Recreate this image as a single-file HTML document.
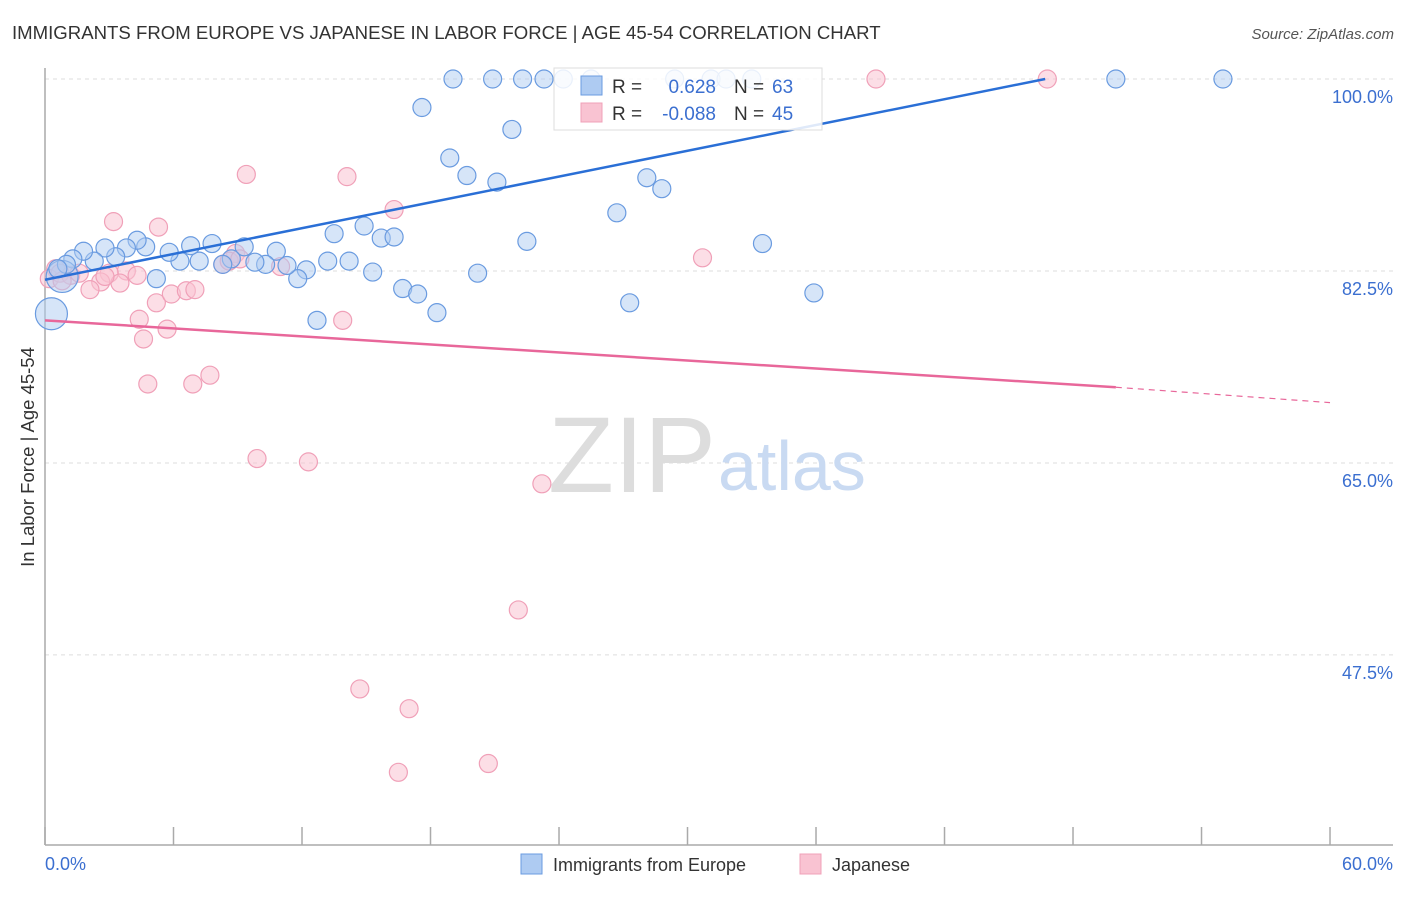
<!DOCTYPE html>
<html><head><meta charset="utf-8"><style>
body{margin:0;background:#fff;font-family:"Liberation Sans",sans-serif}
svg text{font-family:"Liberation Sans",sans-serif}
</style></head><body>
<svg id="chart" width="1406" height="892" xmlns="http://www.w3.org/2000/svg">
<text x="12" y="39" font-size="18.6" fill="#333">IMMIGRANTS FROM EUROPE VS JAPANESE IN LABOR FORCE | AGE 45-54 CORRELATION CHART</text>
<text x="1394" y="39" font-size="15" fill="#555" font-style="italic" text-anchor="end">Source: ZipAtlas.com</text>
<text x="0" y="0" transform="translate(34,457) rotate(-90)" font-size="18.5" fill="#333" text-anchor="middle">In Labor Force | Age 45-54</text>
<g id="grid"></g>
<text x="716" y="492" font-size="108" fill="#ddd" font-family="Liberation Serif" text-anchor="end">ZIP</text>
<text x="718" y="490" font-size="70" fill="#c9daf2">atlas</text>
<g id="pts"></g>
<g id="lines"></g>
<g>
<rect x="554" y="68" width="268" height="62" fill="#fff" fill-opacity="0.85" stroke="#ddd"/>
<rect x="581" y="76" width="21" height="19" fill="#aecbf2" stroke="#6a9be0"/>
<rect x="581" y="103" width="21" height="19" fill="#f9c3d2" stroke="#f0a0b8"/>
<text x="612" y="93" font-size="19" fill="#333">R =</text>
<text x="716" y="93" font-size="19" fill="#3b6fd0" text-anchor="end">0.628</text>
<text x="734" y="93" font-size="19" fill="#333">N =</text>
<text x="772" y="93" font-size="19" fill="#3b6fd0">63</text>
<text x="612" y="120" font-size="19" fill="#333">R =</text>
<text x="716" y="120" font-size="19" fill="#3b6fd0" text-anchor="end">-0.088</text>
<text x="734" y="120" font-size="19" fill="#333">N =</text>
<text x="772" y="120" font-size="19" fill="#3b6fd0">45</text>
</g>
<g>
<rect x="521" y="854" width="21" height="20" fill="#aecbf2" stroke="#6a9be0"/>
<text x="553" y="871" font-size="18" fill="#333">Immigrants from Europe</text>
<rect x="800" y="854" width="21" height="20" fill="#f9c3d2" stroke="#f0a0b8"/>
<text x="832" y="871" font-size="18" fill="#333">Japanese</text>
</g>
</svg>
<script>
const xTicks=[0,6,12,18,24,30,36,42,48,54,60];
const yTicks=[100,82.5,65,47.5];
const yTickLabels=["100.0%","82.5%","65.0%","47.5%"];
const europeX=[19.05,20.9,22.3,23.3,24.2,25.5,29.4,31.1,31.8,33.0,50.0,55.0,17.6,21.8,18.9,19.7,21.1,28.1,28.8,26.7,22.5,33.5,13.5,14.9,15.7,16.3,35.9,27.3,20.2,16.7,17.4,18.3,12.7,15.3,14.2,13.2,12.2,11.8,11.3,10.8,10.3,9.8,9.3,8.7,8.3,7.8,7.2,6.8,6.3,5.8,5.2,4.7,4.3,3.8,3.3,2.8,2.3,1.8,1.3,0.8,0.3,1.0,0.6];
const europeY=[100,100,100,100,100,100,100,100,100,100,100,100,97.4,95.4,92.8,91.2,90.6,91.0,90.0,87.8,85.2,85.0,85.9,86.6,85.5,85.6,80.5,79.6,82.3,80.9,80.4,78.7,78.0,82.4,83.4,83.4,82.6,81.8,83.0,84.3,83.1,83.3,84.7,83.6,83.1,85.0,83.4,84.8,83.4,84.2,81.8,84.7,85.3,84.6,83.8,84.6,83.4,84.3,83.6,82.0,78.6,83.1,82.7];
const europeR=[9,9,9,9,9,9,9,9,9,9,9,9,9,9,9,9,9,9,9,9,9,9,9,9,9,9,9,9,9,9,9,9,9,9,9,9,9,9,9,9,9,9,9,9,9,9,9,9,9,9,9,9,9,9,9,9,9,9,9,16,16,9,9];
const japanX=[38.8,46.8,9.4,14.1,16.3,3.2,5.3,30.7,8.9,11.0,8.3,3.8,3.0,2.6,2.1,3.5,4.3,5.2,5.9,6.6,7.0,4.4,5.7,4.6,13.9,4.8,6.9,7.7,9.9,12.3,23.2,22.1,14.7,17.0,16.5,20.7,0.5,0.2,0.7,1.2,1.6,0.8,2.8,8.6,9.1];
const japanY=[100,100,91.3,91.1,88.1,87.0,86.5,83.7,84.1,82.9,83.1,82.5,82.3,81.5,80.8,81.4,82.1,79.6,80.4,80.7,80.8,78.1,77.2,76.3,78.0,72.2,72.2,73.0,65.4,65.1,63.1,51.6,44.4,42.6,36.8,37.6,82.7,81.8,82.3,82.1,82.3,81.6,82.0,83.4,83.6];
const europeTrend=[0,81.7,46.7,100];
const japanTrend=[0,78.0,50,71.9,60,70.5];
const X=v=>45+v*21.417, Y=v=>79+(100-v)*10.97;
const NS="http://www.w3.org/2000/svg";
function mk(tag,attrs,parent){const e=document.createElementNS(NS,tag);for(const k in attrs)e.setAttribute(k,attrs[k]);parent.appendChild(e);return e;}
const grid=document.getElementById('grid');
yTicks.forEach((t,i)=>{
 const l=mk('line',{x1:45,x2:1393,y1:Y(t),y2:Y(t),stroke:'#ddd','stroke-dasharray':'4,4'},grid);
 
 
 const tx=mk('text',{x:1393,y:Y(t)+24,'font-size':18,fill:'#3b6fd0','text-anchor':'end'},grid);
 tx.textContent=yTickLabels[i];
 
 
});
const ax=mk('line',{x1:45,x2:1393,y1:845,y2:845,stroke:'#aaa','stroke-width':1.5},grid);


const ay=mk('line',{x1:45,x2:45,y1:68,y2:845,stroke:'#aaa','stroke-width':1.5},grid);


xTicks.forEach(t=>{const k=mk('line',{x1:X(t),x2:X(t),y1:827,y2:845,stroke:'#aaa','stroke-width':1.5},grid);
 
 });
const xl0=mk('text',{x:45,y:870,'font-size':18,fill:'#3b6fd0'},grid);xl0.textContent='0.0%';


const xl1=mk('text',{x:1393,y:870,'font-size':18,fill:'#3b6fd0','text-anchor':'end'},grid);xl1.textContent='60.0%';


const pts=document.getElementById('pts');
japanX.forEach((v,i)=>{const c=mk('circle',{cx:X(v),cy:Y(japanY[i]),r:9,fill:'#f9c3d2','fill-opacity':0.55,stroke:'#f0a0b8','stroke-width':1.2},pts);
 
 });
europeX.forEach((v,i)=>{const c=mk('circle',{cx:X(v),cy:Y(europeY[i]),r:europeR[i],fill:'#aecbf2','fill-opacity':0.5,stroke:'#6a9be0','stroke-width':1.2},pts);
 
 });
const lines=document.getElementById('lines');
const bl=mk('line',{x1:X(europeTrend[0]),y1:Y(europeTrend[1]),x2:X(europeTrend[2]),y2:Y(europeTrend[3]),stroke:'#2a6fd6','stroke-width':2.5},lines);


const pl=mk('line',{x1:X(japanTrend[0]),y1:Y(japanTrend[1]),x2:X(japanTrend[2]),y2:Y(japanTrend[3]),stroke:'#e8679a','stroke-width':2.5},lines);


const pd=mk('line',{x1:X(japanTrend[2]),y1:Y(japanTrend[3]),x2:X(japanTrend[4]),y2:Y(japanTrend[5]),stroke:'#e8679a','stroke-width':1.2,'stroke-dasharray':'6,5'},lines);


</script>
</body></html>
